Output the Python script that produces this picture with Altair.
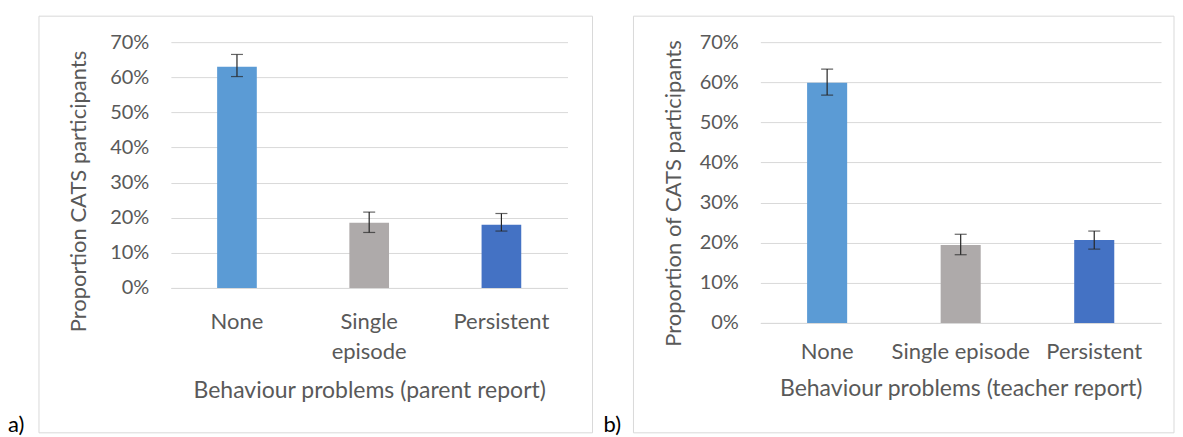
import altair as alt
import pandas as pd

categories = ["None", "Single episode", "Persistent"]
bar_colors = ["#5B9BD5", "#AEAAAA", "#4472C4"]

parent_values = [0.630, 0.186, 0.180]
parent_low = [0.602, 0.158, 0.162]
parent_high = [0.665, 0.216, 0.212]

teacher_values = [0.599, 0.194, 0.207]
teacher_low = [0.568, 0.170, 0.184]
teacher_high = [0.633, 0.221, 0.229]

y_ticks = [0.0, 0.1, 0.2, 0.3, 0.4, 0.5, 0.6, 0.7]

FONT = "Lato"
FS = 22
XTITLE_FS = 23
TICK_FS = 20
TEXT = "#595959"
GRID = "#D9D9D9"
ERR = "#262626"


def panel(values, low, high, ytitle, xtitle, letter, w, h, frame_x, letter_x,
          ytitle_x, ytitle_y, xtitle_y, xlabel_pad, label_expr):
    df = pd.DataFrame({"cat": categories, "v": values, "lo": low, "hi": high,
                       "color": bar_colors})
    xscale = alt.Scale(paddingInner=0.7, paddingOuter=0.35)
    yscale = alt.Scale(domain=[0, 0.7], nice=False)
    xaxis = alt.Axis(title=xtitle, titleFont=FONT, titleFontSize=XTITLE_FS,
                     titleFontWeight="normal", titleColor=TEXT,
                     titleX=w / 2, titleY=xtitle_y, titleBaseline="alphabetic",
                     titleAlign="center",
                     labelAngle=0, labelFont=FONT, labelFontSize=FS,
                     labelColor=TEXT, labelPadding=xlabel_pad,
                     labelLineHeight=30, labelExpr=label_expr,
                     ticks=False, domain=True, domainColor=GRID, domainWidth=1)
    yaxis = alt.Axis(title=ytitle, values=y_ticks, format=".0%",
                     titleFont=FONT, titleFontSize=FS, titleFontWeight="normal",
                     titleColor=TEXT, titleAngle=270, titleX=ytitle_x,
                     titleY=ytitle_y, titleAlign="center", titleBaseline="middle",
                     labelFont=FONT, labelFontSize=TICK_FS, labelColor=TEXT,
                     labelPadding=22, ticks=False, domain=False, grid=True,
                     gridColor=GRID, gridWidth=1)
    x = alt.X("cat:N", sort=categories, scale=xscale, axis=xaxis)
    bars = alt.Chart(df).mark_bar().encode(
        x=x,
        y=alt.Y("v:Q", scale=yscale, axis=yaxis),
        color=alt.Color("color:N", scale=None),
    )
    rules = alt.Chart(df).mark_rule(color=ERR, strokeWidth=1.2).encode(
        x=x, y=alt.Y("lo:Q", scale=yscale, axis=yaxis), y2="hi:Q"
    )
    cap_hi = alt.Chart(df).mark_tick(color=ERR, size=12, thickness=1.2).encode(
        x=x, y=alt.Y("hi:Q", scale=yscale, axis=yaxis)
    )
    cap_lo = alt.Chart(df).mark_tick(color=ERR, size=12, thickness=1.2).encode(
        x=x, y=alt.Y("lo:Q", scale=yscale, axis=yaxis)
    )
    one = alt.Data(values=[{"k": 1}])
    frame = alt.Chart(one).mark_rect(fillOpacity=0, stroke=GRID, strokeWidth=1).encode(
        x=alt.value(frame_x[0]), x2=alt.value(frame_x[1]),
        y=alt.value(-26), y2=alt.value(391),
    )
    lab = alt.Chart(one).mark_text(align="left", baseline="alphabetic", font=FONT,
                                   fontSize=22, color="#000000").encode(
        x=alt.value(letter_x), y=alt.value(390), text=alt.value(letter)
    )
    return alt.layer(bars, rules, cap_hi, cap_lo, frame, lab).properties(
        width=w, height=h
    )


pa = panel(parent_values, parent_low, parent_high,
           "Proportion CATS participants", "Behaviour problems (parent report)",
           "a)", 397, 246, (-132, 422), -163, -92, 149, 110, 24,
           "datum.value == 'Single episode' ? ['Single', 'episode'] : datum.value")
pb = panel(teacher_values, teacher_low, teacher_high,
           "Proportion of CATS participants", "Behaviour problems (teacher report)",
           "b)", 401, 281, (-127, 414), -157, -87, 151, 73, 19,
           "datum.value")

chart = alt.hconcat(pa, pb, spacing=10).configure(
    padding={"left": 0, "top": 7, "right": 0, "bottom": 0}
).configure_view(strokeWidth=0)

chart.save("out.html", embed_options={"renderer": "svg", "actions": False})
